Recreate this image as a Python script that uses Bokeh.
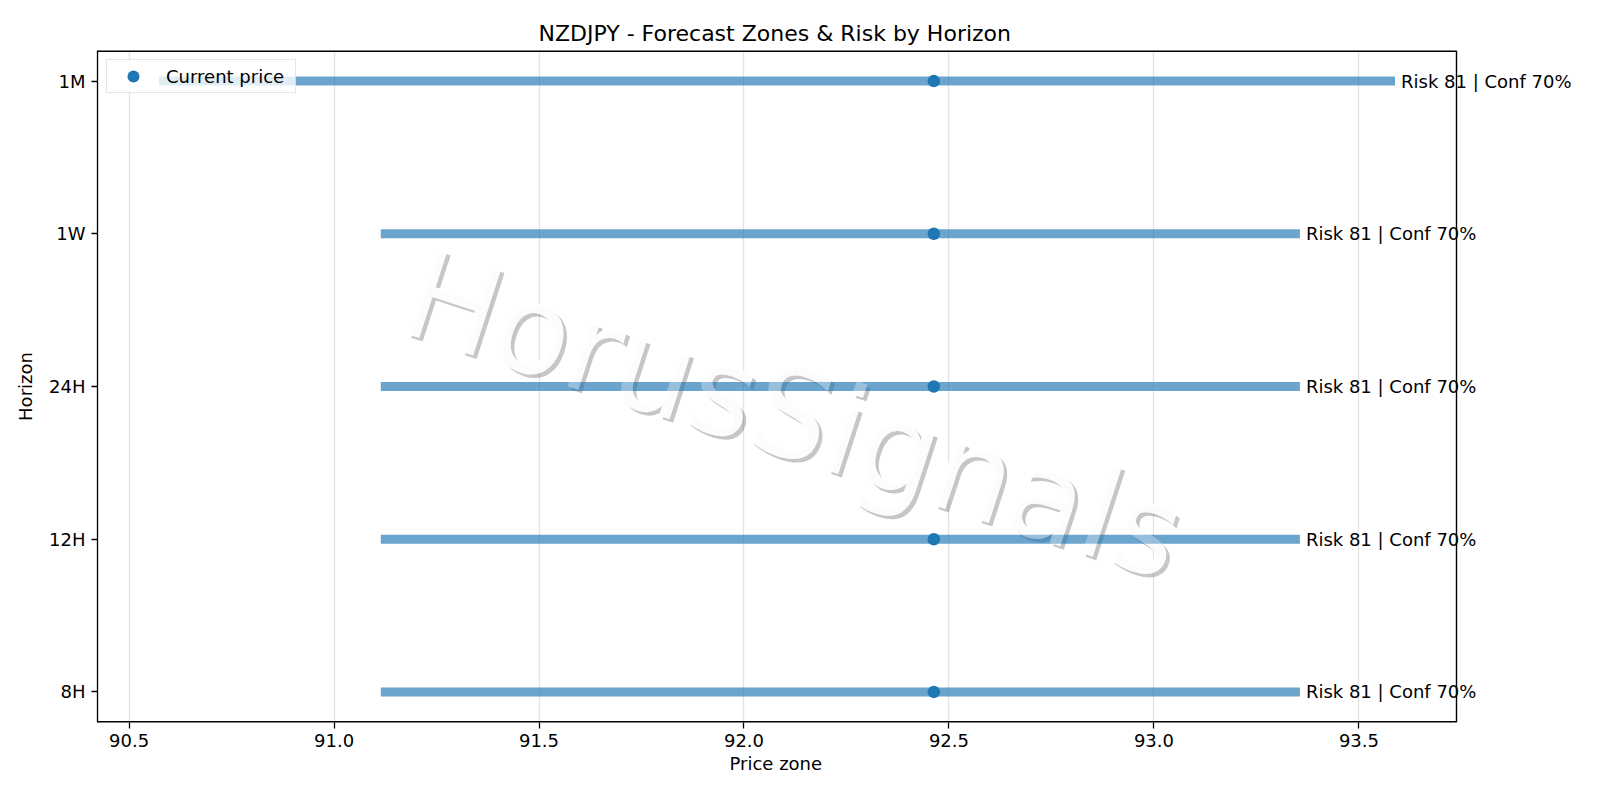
import numpy as np
from bokeh.plotting import figure
from bokeh.models import (ColumnDataSource, FixedTicker, PrintfTickFormatter,
                          LabelSet, Range1d, Legend, LegendItem, Title)
from bokeh.core.properties import value
from bokeh.embed import file_html
from bokeh.resources import INLINE

# ---- data ----
horizons = ["8H", "12H", "24H", "1W", "1M"]
zone_low = [91.114, 91.114, 91.114, 91.114, 90.573]
zone_high = [93.356, 93.356, 93.356, 93.356, 93.588]
current_price = [92.463, 92.463, 92.463, 92.463, 92.463]
risk = [81, 81, 81, 81, 81]
conf = [70, 70, 70, 70, 70]
x_ticks = [90.5, 91.0, 91.5, 92.0, 92.5, 93.0, 93.5]
title_text = "NZDJPY - Forecast Zones & Risk by Horizon"
x_label = "Price zone"
y_label = "Horizon"
legend_label = "Current price"
watermark = "HorusSignals"

FONT = "DejaVu Sans"
BLUE = "#1f77b4"

# ---- layout (pixels) ----
W, H = 1600, 796
LEFT, TOP = 97, 50
AX_W, AX_H = 1359, 672          # visible axes box
FRAME_W = W - LEFT              # frame extends to the right edge so labels are not clipped
BOTTOM = H - TOP - AX_H

ypos = list(range(len(horizons)))
labels = [f"Risk {r} | Conf {c}%" for r, c in zip(risk, conf)]
src = ColumnDataSource(dict(y=ypos, lo=zone_low, hi=zone_high, cur=current_price, lab=labels))

x0, x1 = 90.423, 93.738          # axes limits
y0, y1 = -0.2, len(horizons) - 0.8
xpp = (x1 - x0) / AX_W           # data units per pixel
ypp = (y1 - y0) / AX_H
x_end = x0 + FRAME_W * xpp

p = figure(width=W, height=H, output_backend="svg", toolbar_location=None,
           x_range=Range1d(x0, x_end), y_range=Range1d(y0, y1),
           min_border_left=LEFT, min_border_right=0, min_border_top=TOP,
           min_border_bottom=BOTTOM)

p.title.text = title_text
p.title.align = "left"
p.title.offset = 441
p.title.text_font = FONT
p.title.text_font_size = "22px"
p.title.text_font_style = "normal"
p.title.text_color = "black"

p.outline_line_color = None

for ax in (p.xaxis[0], p.yaxis[0]):
    ax.axis_line_color = "black"
    ax.axis_line_width = 1.3
    ax.major_tick_line_color = "black"
    ax.major_tick_line_width = 1.3
    ax.major_tick_in = 0
    ax.major_tick_out = 6
    ax.minor_tick_line_color = None
    ax.major_label_text_font = FONT
    ax.major_label_text_font_size = "18px"
    ax.major_label_text_color = "black"
    ax.axis_label_text_font = FONT
    ax.axis_label_text_font_size = "18px"
    ax.axis_label_text_font_style = "normal"
    ax.axis_label_text_color = "black"

p.xaxis.axis_line_color = None
p.xaxis.ticker = FixedTicker(ticks=x_ticks)
p.xaxis.formatter = PrintfTickFormatter(format="%.1f")
p.xaxis.major_label_standoff = 5

p.add_layout(Title(text=x_label, align="left", offset=632, text_font=FONT,
                   text_font_size="18px", text_font_style="normal",
                   text_color="black", standoff=2), "below")

p.yaxis.ticker = FixedTicker(ticks=ypos)
p.yaxis.major_label_overrides = {i: h for i, h in zip(ypos, horizons)}
p.yaxis.axis_label = y_label
p.yaxis.major_label_standoff = 6
p.yaxis.axis_label_standoff = 10

p.xgrid.grid_line_color = "#b0b0b0"
p.xgrid.grid_line_alpha = 0.35
p.xgrid.grid_line_width = 1.3
p.ygrid.grid_line_color = None

# spines (bottom / top / right) of the visible axes box
p.segment(x0=[x0, x0], y0=[y0, y1], x1=[x1, x1], y1=[y0, y1],
          line_color="black", line_width=3.2)
p.segment(x0=[x1], y0=[y0], x1=[x1], y1=[y1], line_color="black", line_width=1.4)

# watermark position
wx = (x0 + x1) / 2 + 17 * xpp
wy = (y0 + y1) / 2 - 28 * ypp
wm = dict(x=[wx], y=[wy], text=[watermark], angle=-18, angle_units="deg",
          text_font=value(FONT), text_font_size="124px",
          text_align="center", text_baseline="middle")
# shadow
p.text(text_color="#4d4d4d", text_alpha=0.32, x_offset=3.5, y_offset=3.5, **wm)
# white text body (hides shadow inside the letters)
p.text(text_color="white", text_alpha=0.92, **wm)

# zones
p.segment(x0="lo", y0="y", x1="hi", y1="y", source=src, line_color=BLUE,
          line_alpha=0.66, line_width=9, line_cap="butt")

# light veil of the watermark over the zones
p.text(text_color="white", text_alpha=0.3, **wm)

# current price
dots = p.scatter(x="cur", y="y", source=src, size=12.5, fill_color=BLUE,
                 line_color=BLUE, line_width=0)

# annotations
p.add_layout(LabelSet(x="hi", y="y", text="lab", source=src, x_offset=6,
                      text_baseline="middle", text_align="left",
                      text_font=value(FONT), text_font_size="18px",
                      text_color="black"))

legend = Legend(items=[LegendItem(label=legend_label, renderers=[dots])],
                location="top_left", margin=9, padding=1, spacing=0,
                glyph_width=50, glyph_height=30, label_standoff=8,
                label_width=128,
                label_text_font=FONT, label_text_font_size="18px",
                label_text_color="black",
                label_text_baseline="middle",
                border_line_color="#cccccc", border_line_width=1.3,
                background_fill_color="white", background_fill_alpha=0.8)
p.add_layout(legend, "center")

open("out.html", "w").write(file_html(p, INLINE))
